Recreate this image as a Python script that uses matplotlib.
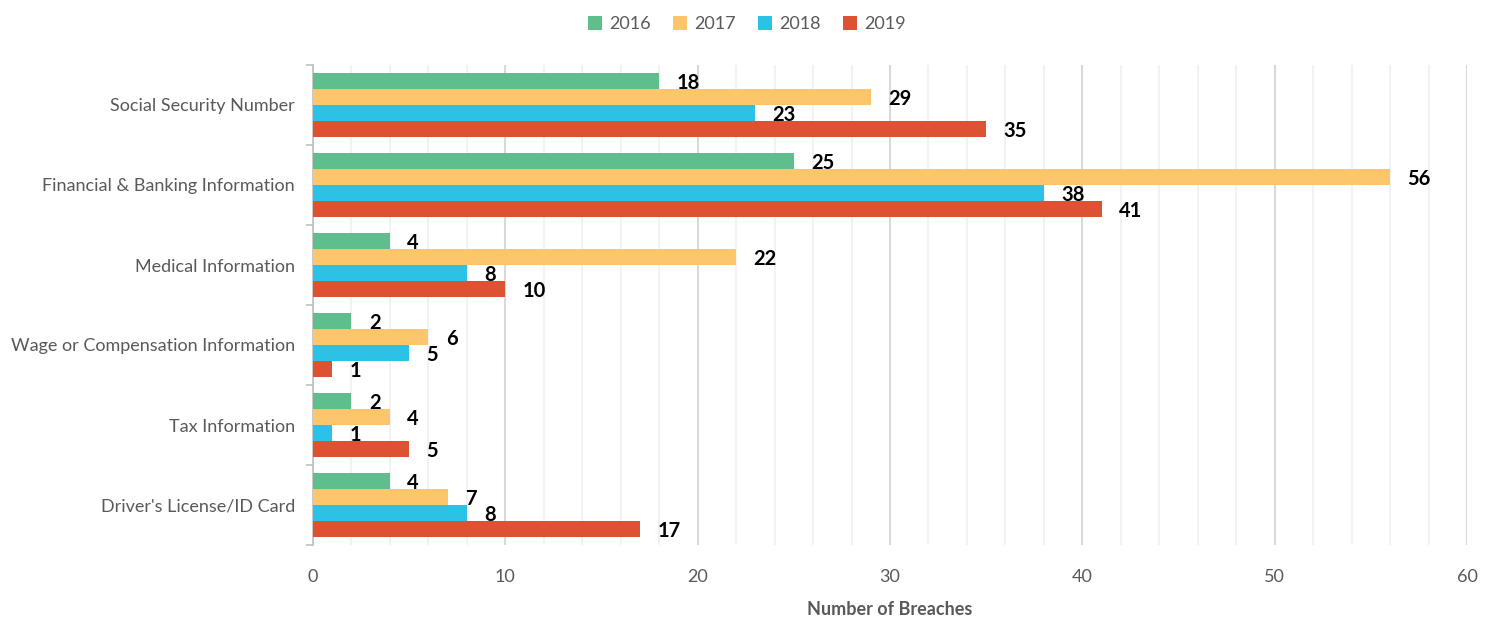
import numpy as np
import matplotlib.pyplot as plt
from matplotlib.ticker import MultipleLocator

plt.rcParams['font.family'] = ['Lato', 'DejaVu Sans']

categories = ["Social Security Number", "Financial & Banking Information",
              "Medical Information", "Wage or Compensation Information",
              "Tax Information", "Driver's License/ID Card"]
years = ["2016", "2017", "2018", "2019"]
v2016 = [18, 25, 4, 2, 2, 4]
v2017 = [29, 56, 22, 6, 4, 7]
v2018 = [23, 38, 8, 5, 1, 8]
v2019 = [35, 41, 10, 1, 5, 17]
colors = ["#5EBF8C", "#FDC66C", "#2CC1E6", "#DD5232"]

series = [v2016, v2017, v2018, v2019]

fig = plt.figure(figsize=(14.94, 6.17), dpi=100)
ax = fig.add_axes([313 / 1494, 72 / 617, 1154 / 1494, 480 / 617])

y = np.arange(len(categories))
h = 0.2
for i, (vals, c, yr) in enumerate(zip(series, colors, years)):
    pos = y - 0.3 + i * h
    ax.barh(pos, vals, height=h, color=c, label=yr, zorder=3)
    for p, v in zip(pos, vals):
        ax.text(v + 0.9, p + 0.03, str(v), va="center", ha="left",
                fontsize=14.5, fontweight="bold", color="black", zorder=4)

ax.set_xlim(0, 60)
ax.set_ylim(len(categories) - 0.5, -0.5)
ax.xaxis.set_major_locator(MultipleLocator(10))
ax.xaxis.set_minor_locator(MultipleLocator(2))
ax.grid(axis="x", which="major", color="#D9D9D9", linewidth=1.5, zorder=0)
ax.grid(axis="x", which="minor", color="#F0F0F0", linewidth=1.2, zorder=0)
ax.set_axisbelow(True)

ax.set_yticks(y)
ax.set_yticklabels(categories, fontsize=13, color="#595959")
ax.set_yticks(np.arange(-0.5, len(categories)), minor=True)
ax.tick_params(axis="y", which="major", length=0, pad=13)
ax.tick_params(axis="y", which="minor", length=5, color="#BFBFBF", width=1.2)
ax.tick_params(axis="x", which="both", length=0, labelsize=13,
               labelcolor="#595959", pad=17)

for s in ["top", "right", "bottom"]:
    ax.spines[s].set_visible(False)
ax.spines["left"].set_color("#BFBFBF")
ax.spines["left"].set_linewidth(1.2)

ax.set_xlabel("Number of Breaches", fontsize=13, fontweight="bold",
              color="#595959", labelpad=12)

fig.legend(loc="upper center", bbox_to_anchor=(0.5, 1.0), ncol=4,
           frameon=False, fontsize=13, handlelength=0.8, handleheight=0.8,
           columnspacing=1.2, handletextpad=0.4, labelcolor="#595959")

fig.savefig("out.png", dpi=100)
